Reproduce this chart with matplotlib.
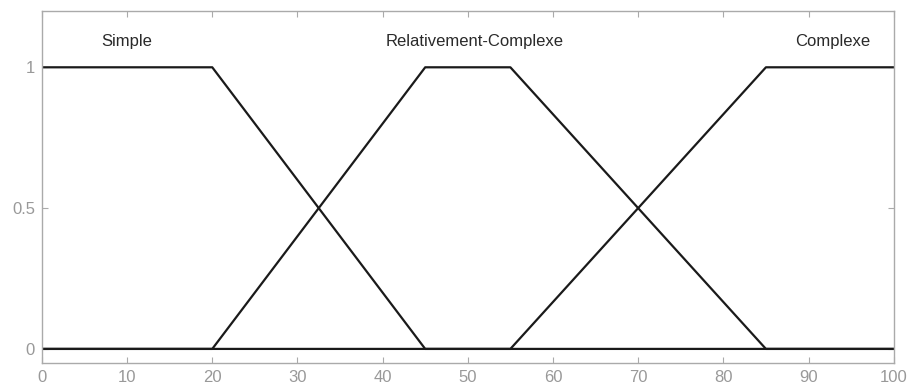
import matplotlib
matplotlib.use("Agg")
import matplotlib.pyplot as plt

plt.rcParams['font.family'] = ['Liberation Sans', 'DejaVu Sans']

simple_x = [0, 20, 45, 100]
simple_y = [1, 1, 0, 0]
relat_x = [0, 20, 45, 55, 85, 100]
relat_y = [0, 0, 1, 1, 0, 0]
complexe_x = [0, 55, 85, 100]
complexe_y = [0, 0, 1, 1]

labels = ["Simple", "Relativement-Complexe", "Complexe"]
label_x = [10, 50.8, 92.8]
label_y = 1.09

xticks = list(range(0, 101, 10))
yticks = [0, 0.5, 1]
ytick_labels = ["0", "0.5", "1"]

fig = plt.figure(figsize=(9.11, 3.92), dpi=100)
ax = fig.add_axes([0.046, 0.074, 0.935, 0.898])

for xs, ys in [(simple_x, simple_y), (relat_x, relat_y), (complexe_x, complexe_y)]:
    ax.plot(xs, ys, color='#1a1a1a', lw=1.6)

for t, x in zip(labels, label_x):
    ax.text(x, label_y, t, ha='center', va='center', fontsize=12, color='#2a2a2a')

ax.set_xlim(0, 100)
ax.set_ylim(-0.05, 1.2)
ax.set_xticks(xticks)
ax.set_yticks(yticks)
ax.set_yticklabels(ytick_labels)
ax.tick_params(direction='in', length=4, color='#aaaaaa', labelcolor='#999999',
               labelsize=12, top=True, right=True, pad=5)
for s in ax.spines.values():
    s.set_color('#aaaaaa')
    s.set_linewidth(1.0)

fig.savefig("out.png", dpi=100)
